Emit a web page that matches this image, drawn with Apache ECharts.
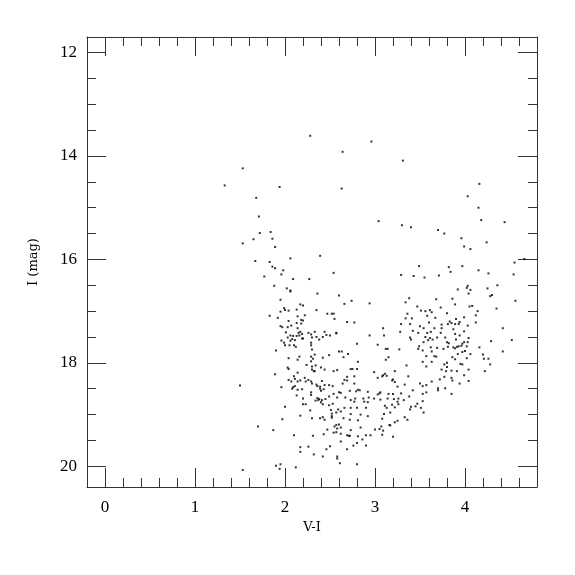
<!DOCTYPE html>
<html>
<head>
<meta charset="utf-8">
<script src="https://cdn.jsdelivr.net/npm/echarts@6/dist/echarts.min.js"></script>
<style>html,body{margin:0;padding:0;background:#fff}#c{width:575px;height:575px}</style>
</head>
<body>
<div id="c"></div>
<script>
// ---- data (V-I, I mag) ----
const xMajor = [0, 1, 2, 3, 4];
const yMajor = [12, 14, 16, 18, 20];
const xName = 'V-I';
const yName = 'I (mag)';

const sparse = [
[1.33,14.57],[1.53,14.24],[1.53,15.69],[1.50,18.44],[1.53,20.07],
[2.28,13.61],[2.96,13.72],[2.64,13.92],[3.31,14.09],[1.94,14.60],[2.63,14.63],[1.68,14.81],[1.71,15.17],[3.04,15.26],[3.30,15.34],
[1.84,15.47],[1.72,15.49],[1.65,15.61],[1.86,15.60],[1.89,15.76],[2.06,15.98],[2.39,15.93],[1.67,16.03],[1.83,16.05],[1.86,16.14],
[1.89,16.17],[1.98,16.21],[1.96,16.29],[1.77,16.33],[2.54,16.26],[3.29,16.30],[2.09,16.38],[2.27,16.38],
[1.70,19.23],[1.87,19.30],[1.90,19.99],[1.95,19.96],[1.94,20.05],[2.12,20.02],[2.80,19.96],[2.61,19.94],
[3.40,15.38],[3.70,15.43],[3.77,15.50]
];

const rightUpper = [
[4.16,14.54],[4.03,14.78],[4.15,15.00],[4.18,15.24],[4.44,15.28],[3.96,15.59],[4.24,15.67],[3.99,15.75],[4.06,15.80],[4.66,15.99],
[4.55,16.06],[3.97,16.13],[4.15,16.21],[4.26,16.27],[4.54,16.29],[4.36,16.50],[4.03,16.51],[4.02,16.55],[4.06,16.59],[3.92,16.58],
[4.25,16.56],[4.04,16.66],[4.30,16.69],[4.28,16.71],[4.56,16.80],[3.89,16.87],[4.08,16.90],[4.05,16.91],[4.35,16.95],[4.14,17.00],
[4.12,17.08],[3.99,17.12],[3.90,17.15],[3.94,17.21],[4.12,17.22],[3.89,17.25],[3.93,17.25],[4.03,17.28],[4.42,17.33],[3.99,17.39],
[3.89,17.44],[3.94,17.47],[4.04,17.52],[3.90,17.55],[4.52,17.56],[4.29,17.58],[3.99,17.60],[4.03,17.60],[3.97,17.63],[3.93,17.68],
[4.02,17.68],[3.96,17.67],[4.16,17.70],[3.89,17.72],[4.00,17.77],[4.42,17.78],[3.97,17.79],[3.92,17.83],[4.06,17.83],[4.20,17.84],
[4.02,17.91],[4.21,17.92],[4.26,17.92],[3.89,17.93],[3.95,18.02],[3.97,18.03],[4.28,18.03],[4.04,18.13],[4.22,18.16],[3.99,18.24],
[4.04,18.35],[3.94,18.40]
];

const redClump = [
[3.49,16.13],[3.82,16.15],[3.84,16.24],[3.43,16.32],[3.55,16.35],[3.71,16.31],[3.38,16.75],[3.34,16.83],[3.68,16.77],[3.86,16.76],
[3.47,16.91],[3.73,16.93],[3.51,16.99],[3.56,17.00],[3.61,16.98],[3.63,17.02],[3.36,17.05],[3.80,17.04],[3.34,17.14],[3.41,17.14],
[3.58,17.09],[3.67,17.13],[3.83,17.20],[3.85,17.23],[3.81,17.25],[3.60,17.22],[3.74,17.26],[3.39,17.25],[3.29,17.25],[3.09,17.33],
[3.42,17.38],[3.50,17.29],[3.54,17.33],[3.66,17.33],[3.74,17.33],[3.87,17.35],[3.28,17.40],[3.48,17.42],[3.58,17.42],[3.62,17.40],
[3.73,17.42],[3.10,17.47],[3.39,17.51],[3.56,17.50],[3.61,17.52],[3.69,17.51],[3.78,17.51],[3.40,17.55],[3.59,17.56],[3.64,17.55],
[3.54,17.60],[3.80,17.60],[3.82,17.62],[3.49,17.68],[3.62,17.70],[3.69,17.71],[3.81,17.69],[3.87,17.70],[3.91,17.69],[3.12,17.73],
[3.14,17.73],[3.27,17.74],[3.48,17.73],[3.53,17.76],[3.76,17.73],[3.63,17.78],[3.15,17.89],[3.57,17.87],[3.66,17.87],[3.68,17.88],
[3.86,17.89],[3.12,17.94],[3.53,17.98],[3.63,17.98],[3.80,18.00],[3.35,18.05],[3.57,18.07],[3.77,18.03],[3.80,18.08],[3.22,18.16],
[3.74,18.13],[3.79,18.16],[3.85,18.15],[3.91,18.16],[3.11,18.21],[3.09,18.24],[3.13,18.25],[3.37,18.26],[3.77,18.27],[3.20,18.32],
[3.63,18.36],[3.72,18.32],[3.86,18.34],[3.85,18.29],[3.50,18.40],[3.53,18.45],[3.33,18.42],[3.25,18.46],[3.70,18.49],[3.70,18.53],
[3.06,18.57],[3.42,18.53],[3.85,18.60],[3.15,18.60],[3.20,18.60],[3.53,18.60],[3.38,18.65],[3.57,18.57],[3.57,18.43],[3.78,18.49],
[3.36,19.10],[3.39,18.90],[3.51,18.87],[3.53,18.74],[3.47,18.79],[3.22,19.15],[3.25,19.12],[3.07,19.23],[3.09,19.31],[3.10,18.99],
[3.17,18.96]
];

const bottomClump = [
[2.66,16.86],[2.74,16.80],[2.94,16.85],[2.69,17.21],[2.77,17.22],[2.57,17.43],[2.94,17.47],[2.80,17.63],[3.03,17.65],[2.60,17.78],
[2.63,17.78],[2.70,17.83],[2.65,17.89],[2.81,17.98],[2.58,18.14],[2.73,18.12],[2.75,18.12],[2.80,18.12],[2.99,18.18],[2.69,18.27],
[2.66,18.33],[2.69,18.34],[3.03,18.29],[3.08,18.26],[2.77,18.26],[3.19,18.34],[2.64,18.40],[2.77,18.40],[3.22,18.37],[2.62,18.58],
[2.60,18.57],[2.72,18.54],[2.79,18.55],[2.81,18.52],[2.83,18.53],[2.92,18.56],[3.03,18.61],[3.05,18.59],[3.29,18.59],[2.58,18.67],
[2.67,18.67],[2.78,18.69],[2.73,18.72],[2.87,18.69],[2.93,18.67],[2.99,18.69],[3.06,18.71],[3.14,18.69],[3.21,18.70],[3.26,18.69],
[3.32,18.72],[2.77,18.75],[2.88,18.75],[2.92,18.76],[3.25,18.75],[3.26,18.80],[3.19,18.81],[2.66,18.87],[2.73,18.87],[2.80,18.87],
[2.90,18.87],[3.11,18.83],[3.13,18.87],[3.22,18.86],[3.40,18.85],[3.45,18.84],[3.54,18.96],[2.57,18.96],[2.62,18.94],[2.73,18.99],
[2.84,19.00],[2.92,19.03],[3.33,19.05],[2.65,19.07],[2.72,19.10],[2.81,19.11],[3.08,19.08],[3.16,19.20],[3.17,19.21],[2.60,19.19],
[2.62,19.25],[2.84,19.25],[3.00,19.29],[3.05,19.28],[2.57,19.34],[2.73,19.30],[2.62,19.37],[2.81,19.42],[2.69,19.40],[2.71,19.41],
[2.72,19.41],[2.90,19.40],[2.95,19.40],[2.86,19.48],[3.08,19.39],[3.20,19.43],[2.62,19.52],[2.80,19.55],[2.69,19.67],[2.76,19.60],
[2.90,19.60],[2.58,19.81],[2.58,19.85]
];

const leftBranch = [
[1.88,16.51],[2.02,16.56],[2.06,16.60],[2.06,16.62],[2.36,16.66],[2.60,16.70],[1.95,16.78],[2.17,16.87],[2.20,16.89],[1.99,16.94],
[2.13,16.97],[2.35,16.98],[1.95,17.01],[2.04,16.99],[2.00,16.98],[1.83,17.09],[2.14,17.10],[2.22,17.08],[2.47,17.05],[2.52,17.05],
[2.54,17.05],[1.92,17.13],[2.55,17.15],[2.18,17.17],[2.20,17.18],[2.04,17.19],[2.13,17.23],[2.18,17.24],[1.95,17.29],[1.97,17.31],
[2.03,17.31],[2.07,17.28],[2.14,17.33],[2.01,17.41],[2.15,17.42],[2.17,17.40],[2.19,17.44],[2.06,17.47],[2.09,17.48],[2.13,17.48],
[2.16,17.47],[2.26,17.42],[2.29,17.45],[2.33,17.40],[2.44,17.40],[2.46,17.46],[2.57,17.42],[2.50,17.47],[2.30,17.51],[2.35,17.50],
[2.42,17.50],[2.03,17.51],[2.08,17.54],[2.19,17.53],[2.20,17.53],[2.38,17.55],[1.96,17.57],[2.06,17.57],[2.11,17.56],[1.99,17.61],
[2.29,17.61],[2.00,17.66],[2.05,17.66],[2.10,17.66],[2.12,17.69],[2.29,17.66],[2.30,17.74],[1.90,17.76],[2.33,17.84],[2.29,17.88],
[2.16,17.88],[2.49,17.85],[2.04,17.91],[2.14,17.94],[2.31,17.92],[2.42,17.90],[2.29,17.97],[2.24,18.04],[2.34,18.05],[2.30,18.07],
[2.03,18.09],[2.04,18.12],[2.40,18.09],[2.30,18.13],[2.33,18.16],[2.32,18.16],[2.44,18.13],[2.54,18.16],[2.14,18.19],[1.89,18.22],
[2.10,18.26]
];

const lowerBranch = [
[2.04,18.33],[2.07,18.36],[2.11,18.31],[2.14,18.36],[2.17,18.34],[2.22,18.29],[2.23,18.36],[2.26,18.33],[2.29,18.36],[2.30,18.40],
[2.35,18.42],[2.36,18.45],[2.41,18.35],[2.39,18.46],[2.44,18.43],[2.49,18.43],[2.53,18.45],[1.96,18.47],[2.09,18.47],[2.11,18.45],
[2.14,18.52],[2.08,18.50],[2.19,18.51],[2.39,18.50],[2.43,18.51],[2.40,18.54],[2.29,18.57],[2.54,18.60],[2.13,18.63],[2.29,18.62],
[2.36,18.68],[2.38,18.70],[2.41,18.72],[2.37,18.72],[2.45,18.70],[2.49,18.65],[2.20,18.69],[2.34,18.73],[2.40,18.76],[2.20,18.80],
[2.23,18.80],[2.42,18.80],[2.49,18.82],[2.53,18.79],[2.00,18.85],[2.28,18.92],[2.51,18.91],[2.59,18.90],[2.17,19.02],[2.30,19.07],
[2.39,19.07],[2.42,19.05],[2.44,19.10],[2.52,18.98],[2.52,19.03],[2.52,19.06],[1.97,19.09],[2.57,19.20],[2.55,19.23],[2.58,19.27],
[2.47,19.29],[2.54,19.35],[2.10,19.40],[2.31,19.41],[2.43,19.38],[2.50,19.61],[2.17,19.63],[2.26,19.62],[2.17,19.72],[2.46,19.67],
[2.32,19.77],[2.42,19.81]
];

const stars = [].concat(sparse, rightUpper, redClump, bottomClump, leftBranch, lowerBranch);

// ---- tick positions ----
function steps(a, b, s) { const out = []; for (let v = a; v <= b + 1e-9; v += s) out.push(Math.round(v * 100) / 100); return out; }
const xMinor = steps(0.2, 4.6, 0.2);
const yMinor = steps(12, 20, 0.5);

const AX = '#333';
const FONT = 'Liberation Serif';
const NAMEFONT = 'DejaVu Serif';

function xAx(pos, ticks, len, main) {
  return {
    type: 'value', gridIndex: 0, position: pos, min: -0.2, max: 4.8,
    name: main && pos === 'bottom' ? xName : '',
    nameLocation: 'middle', nameGap: 29,
    nameTextStyle: { fontFamily: NAMEFONT, fontSize: 13, color: '#000' },
    axisLine: { show: main, onZero: false, lineStyle: { color: AX, width: 1 } },
    axisTick: { show: true, inside: true, length: len, customValues: ticks, lineStyle: { color: AX, width: 1 } },
    axisLabel: { show: main && pos === 'bottom', customValues: xMajor, margin: 12, fontFamily: FONT, fontSize: 17, color: '#000' },
    splitLine: { show: false }
  };
}
function yAx(pos, ticks, len, main) {
  return {
    type: 'value', gridIndex: 0, position: pos, min: 11.7, max: 20.4, inverse: true,
    name: main && pos === 'left' ? yName : '',
    nameLocation: 'middle', nameGap: 47, nameRotate: 90,
    nameTextStyle: { fontFamily: NAMEFONT, fontSize: 13, color: '#000' },
    axisLine: { show: main, onZero: false, lineStyle: { color: AX, width: 1 } },
    axisTick: { show: true, inside: true, length: len, customValues: ticks, lineStyle: { color: AX, width: 1 } },
    axisLabel: { show: main && pos === 'left', customValues: yMajor, margin: 10, fontFamily: FONT, fontSize: 17, color: '#000' },
    splitLine: { show: false }
  };
}

const chart = echarts.init(document.getElementById('c'), null, { renderer: 'canvas' });
chart.setOption({
  animation: false,
  backgroundColor: '#fff',
  grid: { left: 87, top: 37, right: 38, bottom: 88, containLabel: false },
  xAxis: [
    xAx('bottom', xMajor, 19, true),
    xAx('bottom', xMinor, 9, false),
    xAx('top', xMajor, 19, true),
    xAx('top', xMinor, 9, false)
  ],
  yAxis: [
    yAx('left', yMajor, 19, true),
    yAx('left', yMinor, 9, false),
    yAx('right', yMajor, 19, true),
    yAx('right', yMinor, 9, false)
  ],
  series: [{
    type: 'scatter', xAxisIndex: 0, yAxisIndex: 0,
    data: stars, symbol: 'rect', symbolSize: 2,
    itemStyle: { color: '#000' }
  }]
});
</script>
</body>
</html>
